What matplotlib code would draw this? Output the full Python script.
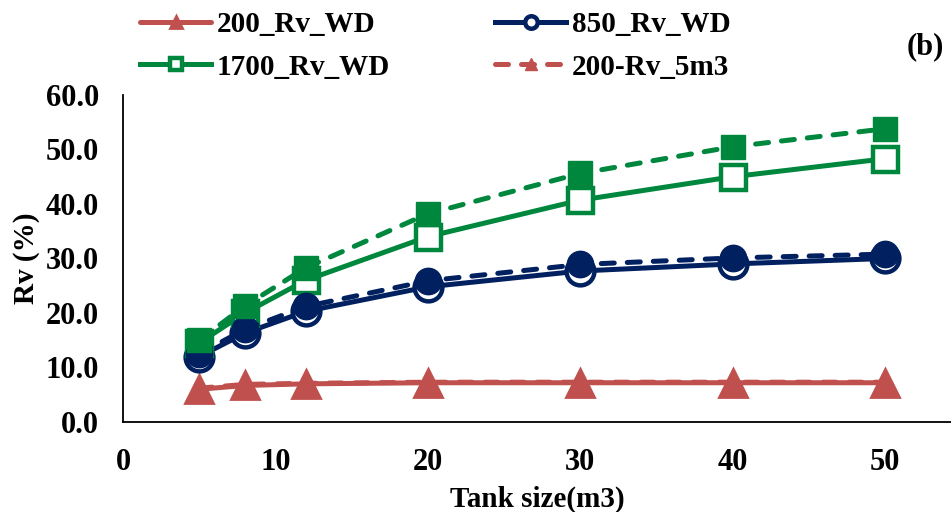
import numpy as np
import matplotlib
matplotlib.use("Agg")
import matplotlib.pyplot as plt

plt.rcParams['font.family'] = ['Liberation Serif', 'DejaVu Serif']
plt.rcParams['font.weight'] = 'bold'

# tank sizes (m3)
tank_size = [5, 8, 12, 20, 30, 40, 50]

# Rv (%) per series
rv_200_wd = [6.0, 6.7, 7.0, 7.2, 7.2, 7.2, 7.2]
rv_850_wd = [12.0, 16.3, 20.3, 24.8, 27.7, 29.0, 30.0]
rv_1700_wd = [14.5, 20.0, 26.0, 34.0, 40.7, 45.0, 48.3]
rv_200_5m3 = [6.2, 6.9, 7.1, 7.3, 7.3, 7.3, 7.3]
rv_850_5m3 = [12.5, 17.0, 21.2, 25.9, 28.9, 30.1, 30.8]
rv_1700_5m3 = [15.0, 21.3, 28.3, 38.2, 45.6, 50.5, 53.8]

x_ticks = [0, 10, 20, 30, 40, 50]
y_ticks = [0, 10, 20, 30, 40, 50, 60]

red = '#C0504D'
navy = '#002060'
green = '#00873E'

fig = plt.figure(figsize=(9.51, 5.12), dpi=100)
ax = fig.add_axes([0.1293, 0.1758, 0.8707, 0.6387])

lw = 3.6
dash = (2.6, 2.6)

h1, = ax.plot(tank_size, rv_200_wd, color=red, lw=lw, marker='^', ms=20,
              mfc=red, mec=red, mew=2, solid_capstyle='round', zorder=3,
              label='200_Rv_WD')
h2, = ax.plot(tank_size, rv_850_wd, color=navy, lw=lw, marker='o', ms=20,
              mfc='white', mec=navy, mew=3.2, zorder=3, label='850_Rv_WD')
h3, = ax.plot(tank_size, rv_1700_wd, color=green, lw=lw, marker='s', ms=18,
              mfc='white', mec=green, mew=3.2, zorder=3, label='1700_Rv_WD')
h4, = ax.plot(tank_size, rv_200_5m3, color=red, lw=lw, ls=(0, dash), marker='^',
              ms=18, mfc=red, mec=red, dash_capstyle='round', zorder=4,
              label='200-Rv_5m3')
ax.plot(tank_size, rv_850_5m3, color=navy, lw=lw, ls=(0, dash), marker='o',
        ms=19, mfc=navy, mec=navy, dash_capstyle='round', zorder=4,
        label='850-Rv_5m3')
ax.plot(tank_size, rv_1700_5m3, color=green, lw=lw, ls=(0, dash), marker='s',
        ms=17, mfc=green, mec=green, dash_capstyle='round', zorder=4,
        label='1700-Rv_5m3')

ax.set_xlim(0, 54.33)
ax.set_ylim(0, 60)
ax.set_xticks(x_ticks)
ax.set_yticks(y_ticks)
ax.set_yticklabels(['%.1f' % v for v in y_ticks])
ax.tick_params(length=0, labelsize=22)
ax.tick_params(axis='x', pad=19)
ax.tick_params(axis='y', pad=17)
for lab in ax.get_xticklabels() + ax.get_yticklabels():
    lab.set_fontweight('bold')

ax.spines['top'].set_visible(False)
ax.spines['right'].set_visible(False)
ax.spines['left'].set_linewidth(1.3)
ax.spines['bottom'].set_linewidth(1.3)

ax.set_xlabel('Tank size(m3)', fontsize=21, fontweight='bold', labelpad=6)
ax.set_ylabel('Rv (%)', fontsize=21, fontweight='bold')
ax.yaxis.set_label_coords(-0.1, 0.5)

fig.legend(handles=[h1, h3, h2, h4], ncol=2, loc='center left',
           bbox_to_anchor=(140 / 951, 0.91), frameon=False, fontsize=21,
           markerscale=0.45, handlelength=2.45, columnspacing=3.6,
           handletextpad=0.18, labelspacing=0.52, borderaxespad=0,
           borderpad=0)

fig.text(0.9727, 0.908, '(b)', fontsize=22, fontweight='bold', ha='center',
         va='center')

fig.savefig('out.png', dpi=100)
